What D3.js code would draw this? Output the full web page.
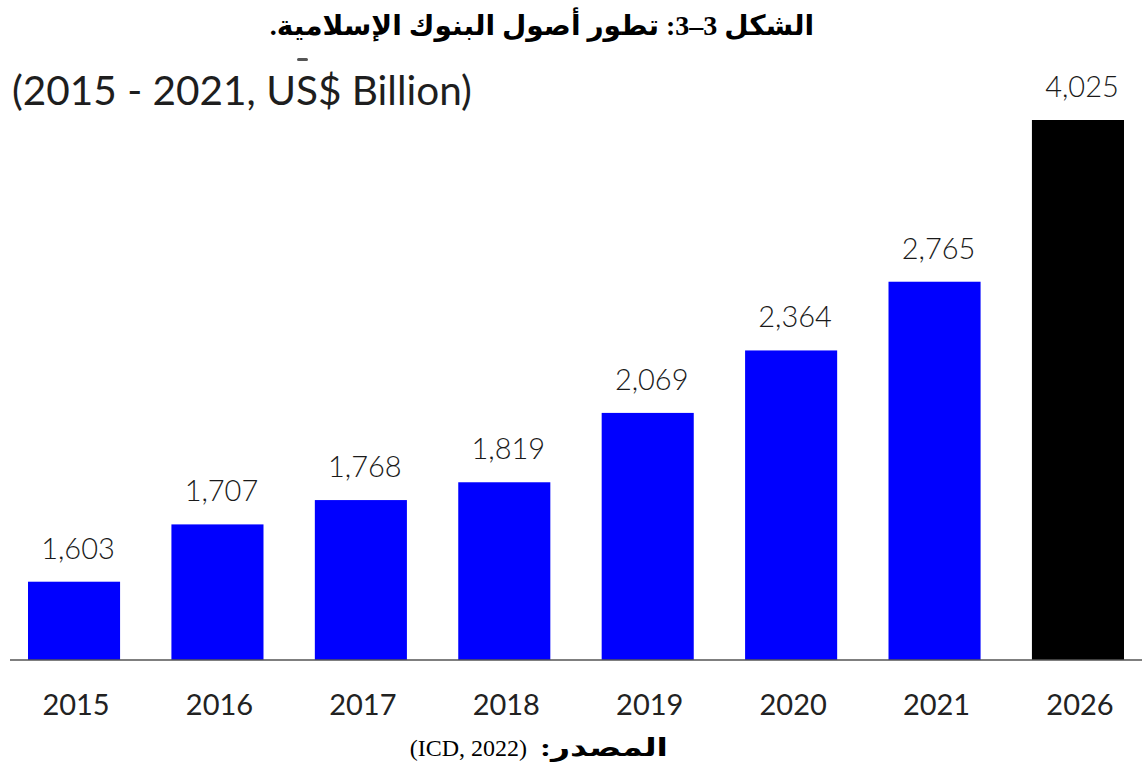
<!DOCTYPE html>
<html lang="ar">
<head>
<meta charset="utf-8">
<script src="https://cdn.jsdelivr.net/npm/d3@7/dist/d3.min.js"></script>
<style>
  html, body { margin: 0; padding: 0; background: #ffffff; }
  svg { display: block; }
</style>
</head>
<body>
<svg id="chart" width="1142" height="780"></svg>
<script>
// Islamic banking assets, US$ billion
const years = ["2015", "2016", "2017", "2018", "2019", "2020", "2021", "2026"];
const assets = [1603, 1707, 1768, 1819, 2069, 2364, 2765, 4025];
const forecastYears = ["2026"];

const titleText = "الشكل 3–3: تطور أصول البنوك الإسلامية.";
const subtitleText = "(2015 - 2021, US$ Billion)";
const sourceLabel = ":المصدر";
const sourceRef = "(ICD, 2022)";

const W = 1142, H = 780;
const baseY = 660, topY = 120;
const svg = d3.select("#chart");

const data = years.map((y, i) => ({ year: y, value: assets[i] }));

// band positions for the years
const x = d3.scaleBand()
  .domain(years)
  .range([28, 1124])
  .paddingInner(0.358)
  .paddingOuter(0);

// bar heights grow with the square root of the amount above a floor value
const floor = 1551;
const y = d3.scaleSqrt()
  .domain([0, d3.max(assets) - floor])
  .range([baseY, topY]);

const fmt = d3.format(",");
const labelFont = "Lato, 'Open Sans', sans-serif";

// fit a text element to a given width by adjusting its font size
function fitWidth(sel, width) {
  const node = sel.node();
  const size = +sel.attr("font-size");
  const len = node.getComputedTextLength();
  if (len > 0) sel.attr("font-size", size * width / len);
  return sel;
}

// bars
svg.append("g")
  .selectAll("rect")
  .data(data)
  .join("rect")
  .attr("x", d => x(d.year))
  .attr("y", d => y(d.value - floor))
  .attr("width", x.bandwidth())
  .attr("height", d => baseY - y(d.value - floor))
  .attr("fill", d => forecastYears.includes(d.year) ? "#000000" : "#0000ff");

// value labels above the bars
svg.append("g")
  .selectAll("text")
  .data(data)
  .join("text")
  .attr("x", d => x(d.year) + x.bandwidth() / 2 + 4)
  .attr("y", d => y(d.value - floor) - 23)
  .attr("text-anchor", "middle")
  .attr("font-family", labelFont)
  .attr("font-weight", 300)
  .attr("font-size", 29)
  .attr("fill", "#1a1a1a")
  .text(d => fmt(d.value));

// category axis
const xAxis = svg.append("g")
  .attr("transform", `translate(0,${baseY})`)
  .call(d3.axisBottom(x).tickSize(0).tickPadding(34));
xAxis.select(".domain").remove();
xAxis.selectAll("text")
  .attr("font-family", labelFont)
  .attr("font-weight", 400)
  .attr("font-size", 29)
  .attr("fill", "#222")
  .attr("dx", 2);

// baseline
svg.append("line")
  .attr("x1", 10).attr("x2", W)
  .attr("y1", baseY).attr("y2", baseY)
  .attr("stroke", "#555")
  .attr("stroke-width", 1.5);

// subtitle
const subtitle = svg.append("text")
  .attr("x", 12)
  .attr("y", 105)
  .attr("font-family", labelFont)
  .attr("font-weight", 400)
  .attr("font-size", 42)
  .attr("fill", "#1e1e1e")
  .text(subtitleText);
fitWidth(subtitle, 460);

// small stroke left above the subtitle
svg.append("rect")
  .attr("x", 297).attr("y", 58)
  .attr("width", 11).attr("height", 3)
  .attr("rx", 1.5)
  .attr("fill", "#555");

// title
svg.append("text")
  .attr("x", 542)
  .attr("y", 35)
  .attr("text-anchor", "middle")
  .attr("direction", "rtl")
  .style("direction", "rtl")
  .attr("font-family", "'Liberation Serif', 'DejaVu Sans', serif")
  .attr("font-weight", "bold")
  .attr("font-size", 28)
  .attr("fill", "#000")
  .text(titleText);

// source line
svg.append("text")
  .attr("x", 527)
  .attr("y", 756)
  .attr("text-anchor", "end")
  .attr("font-family", "'Liberation Serif', serif")
  .attr("font-size", 24)
  .attr("fill", "#000")
  .text(sourceRef);

svg.append("text")
  .attr("x", 540)
  .attr("y", 756)
  .attr("text-anchor", "start")
  .attr("font-family", "'Liberation Serif', 'DejaVu Sans', serif")
  .attr("font-weight", "bold")
  .attr("font-size", 25)
  .attr("textLength", 128)
  .attr("lengthAdjust", "spacingAndGlyphs")
  .attr("fill", "#000")
  .text(sourceLabel);
</script>
</body>
</html>
